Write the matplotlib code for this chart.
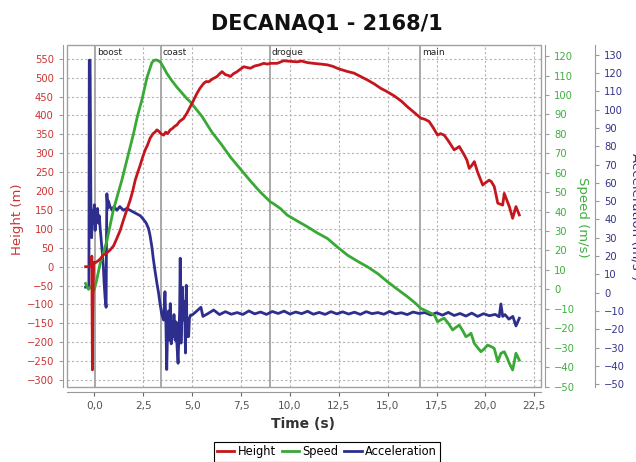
import matplotlib
matplotlib.use("Agg")
import matplotlib.pyplot as plt
from matplotlib.patches import Rectangle
from matplotlib.ticker import FuncFormatter, MultipleLocator

# ---------------- data ----------------
title = "DECANAQ1 - 2168/1"
events = ["boost", "coast", "drogue", "main"]
event_times = [0.02, 3.40, 8.97, 16.66]

t_height = [-0.45, -0.22, -0.15, -0.13, -0.10, -0.08, -0.04, 0.00, 0.04, 0.20, 0.29, 0.46, 0.62,
            0.80, 0.98, 1.15, 1.32, 1.49, 1.66, 1.83, 1.96, 2.09, 2.22, 2.34, 2.47, 2.60, 2.72, 2.85,
            3.00, 3.10, 3.20, 3.30, 3.40, 3.54, 3.65, 3.75, 3.88, 4.00, 4.12, 4.22, 4.35, 4.45, 4.56,
            4.73, 4.90, 5.07, 5.25, 5.40, 5.59, 5.72, 5.84, 6.05, 6.27, 6.40, 6.53, 6.70, 6.85, 6.96,
            7.10, 7.30, 7.45, 7.64, 7.80, 7.98, 8.20, 8.45, 8.66, 8.85, 9.00, 9.35, 9.69, 9.86, 10.10,
            10.37, 10.60, 10.89, 11.20, 11.57, 11.91, 12.20, 12.42, 12.59, 12.90, 13.28, 13.62, 13.96,
            14.30, 14.64, 14.90, 15.33, 15.70, 16.01, 16.40, 16.69, 16.90, 17.12, 17.30, 17.55, 17.70,
            17.89, 18.10, 18.40, 18.55, 18.66, 18.91, 19.05, 19.17, 19.30, 19.43, 19.60, 19.86, 20.00,
            20.19, 20.30, 20.45, 20.63, 20.88, 20.96, 21.10, 21.22, 21.39, 21.56, 21.73]
height = [0, 0, 2, 28, -273, -120, 8, 12, 10, 16, 20, 31, 36,
          44, 55, 75, 96, 124, 150, 176, 200, 229, 250, 268, 290, 309, 322, 340,
          352, 356, 362, 358, 352, 348, 356, 352, 362, 366, 372, 375, 384, 388, 392,
          406, 423, 440, 459, 472, 485, 490, 489, 497, 503, 510, 516, 508, 506, 503,
          510, 516, 522, 529, 527, 525, 531, 534, 538, 536, 538, 538, 545, 544, 543,
          542, 544, 540, 538, 536, 534, 530, 525, 522, 517, 512, 503, 494,
          484, 472, 465, 452, 438, 423, 406, 393, 390, 384, 370, 348, 352,
          348, 333, 309, 314, 318, 296, 282, 260, 268, 278, 250, 216, 222,
          229, 225, 212, 168, 163, 194, 175, 159, 128, 159, 137]

t_speed = [-0.45, -0.30, -0.15, -0.05, 0.00, 0.10, 0.29, 0.64, 0.97, 1.40, 1.70, 2.00, 2.20, 2.43,
           2.69, 2.94, 3.05, 3.16, 3.27, 3.37, 3.55, 3.71, 3.95, 4.22, 4.48, 4.74, 4.90, 5.50, 6.00,
           6.50, 6.96, 7.50, 8.00, 8.49, 9.00, 9.17, 9.52, 9.86, 10.40, 10.89, 11.40, 11.91, 12.40,
           12.94, 13.45, 13.96, 14.50, 14.99, 15.50, 16.01, 16.40, 16.69, 16.95, 17.21, 17.40, 17.55,
           17.75, 17.89, 18.10, 18.32, 18.50, 18.66, 18.85, 19.00, 19.15, 19.26, 19.43, 19.60, 19.77,
           19.95, 20.11, 20.30, 20.45, 20.63, 20.79, 20.96, 21.10, 21.22, 21.39, 21.56, 21.73]
speed = [3, 0, 1.5, -1, 0, 4, 13, 25, 40.8, 56, 68, 80, 89, 97.4,
         109, 116.6, 117.8, 118, 117.6, 117, 114, 111, 107.5, 104, 101, 98, 96.5, 89, 81,
         74.5, 68, 61.5, 55.5, 50, 45, 44, 41.5, 38.2, 35, 32.2, 29, 26.2, 22,
         17.6, 14.5, 11.6, 8, 3.9, 0, -3.8, -7, -9.8, -11, -12.3, -13.5, -16.7,
         -15.5, -14.9, -17.5, -20.9, -19.5, -18.4, -21.5, -24.4, -23.5, -22.6, -27.8, -30, -32.1,
         -30.5, -28.7, -29.5, -30.4, -37.2, -32.9, -32.1, -35, -38.1, -41.5, -32.9, -36.4]

t_accel = [-0.45, -0.28, -0.26, -0.22, -0.18, -0.14, -0.10, -0.05, 0.00, 0.04, 0.08, 0.12, 0.16,
           0.20, 0.25, 0.29, 0.34, 0.38, 0.42, 0.46, 0.50, 0.55, 0.60, 0.62, 0.64, 0.68, 0.72, 0.80,
           0.90, 1.00, 1.15, 1.30, 1.49, 1.65, 1.83, 2.00, 2.17, 2.35, 2.51, 2.65, 2.77, 2.85, 2.94,
           3.02, 3.10, 3.20, 3.28, 3.37, 3.45, 3.54, 3.61, 3.66, 3.70, 3.74, 3.79, 3.84, 3.88, 3.93,
           3.97, 4.02, 4.07, 4.13, 4.18, 4.23, 4.28, 4.33, 4.36, 4.39, 4.43, 4.47, 4.50, 4.56, 4.61,
           4.66, 4.70, 4.74, 4.78, 4.82, 4.86, 4.92, 5.00, 5.20, 5.45, 5.55, 5.80, 6.10, 6.40, 6.70,
           7.00, 7.30, 7.60, 7.90, 8.20, 8.50, 8.80, 9.10, 9.40, 9.70, 10.00, 10.30, 10.60, 10.90,
           11.20, 11.50, 11.80, 12.10, 12.40, 12.70, 13.00, 13.30, 13.60, 13.90, 14.20, 14.50, 14.80,
           15.10, 15.40, 15.70, 16.00, 16.30, 16.60, 16.90, 17.20, 17.50, 17.80, 18.10, 18.40, 18.70,
           19.00, 19.30, 19.60, 19.90, 20.20, 20.50, 20.70, 20.79, 20.88, 21.00, 21.20, 21.40, 21.56,
           21.73]
accel = [3, 3, 127, 127, 50, 30, 45, 38, 48, 34, 44, 40, 46,
         38, 42, 36, 30, 25, 20, 14, 5, -3, -8, 30, 54, 46, 50, 47,
         45, 47, 45, 47, 45, 46, 45, 44, 43, 42, 40, 38, 35, 31, 25,
         18, 12, 5, 0, -7, -12, -15, 0.5, -18, -42, -22, -10, -26, -6, -28,
         -16, -24, -12, -26, -16, -30, -38.6, -20, -10, 18.8, -27.6, -12, 3, -15, -5,
         -33, 4, -24, -16.7, -24, -14, -12.2, -12.2, -10.4, -8, -13, -11.5, -9.5, -12, -10.4,
         -11.8, -10.9, -11.9, -10.0, -11.6, -10.6, -11.9, -10.3, -11.4, -10.1, -11.7, -10.6, -11.5, -10.2,
         -11.8, -10.8, -11.9, -10.4, -11.6, -10.5, -11.7, -10.7, -11.9, -10.4, -11.5, -10.9, -11.8,
         -10.3, -11.6, -11.0, -12.0, -10.6, -11.4, -10.9, -12.2, -11.0, -12.3, -10.8, -12.5, -11.4,
         -12.8, -11.2, -13.0, -11.5, -12.6, -11.9, -13.2, -6.2, -13.0, -12.0, -14.5, -13.0, -18.2,
         -14.0]

x_ticks = [0.0, 2.5, 5.0, 7.5, 10.0, 12.5, 15.0, 17.5, 20.0, 22.5]

# ---------------- style ----------------
RED = "#c4161c"
GREEN = "#38a935"
BLUE = "#2e2e8e"
RED_T = "#cc3333"
GREEN_T = "#3fae3f"
BLUE_T = "#333388"
GREY = "#9a9a9a"

fig = plt.figure(figsize=(6.36, 4.62), dpi=100)
fig.patch.set_facecolor("white")
L, R, B, T = 67 / 636, 541 / 636, 1 - 386.7 / 462, 1 - 45 / 462
ax = fig.add_axes([L, B, R - L, T - B])

xlim = (-1.40, 22.84)
ax.set_xlim(xlim)
ax.set_ylim(-317.5, 586.5)

# grid + events on the base axes
ax.set_xticks(x_ticks)
ax.yaxis.set_major_locator(MultipleLocator(50))
ax.grid(True, color="#b4b4b4", linestyle=(0, (2, 2)), linewidth=0.8)
ax.set_axisbelow(True)
for name, te in zip(events, event_times):
    ax.axvline(te, color="#a8a8a8", linewidth=1.4, zorder=1)
    ax.annotate(name, xy=(te, 1), xycoords=("data", "axes fraction"),
                xytext=(1.5, -2), textcoords="offset points", ha="left", va="top",
                fontsize=6.5, color="#222222")

ax.add_patch(Rectangle((0, 0), 1, 1, transform=ax.transAxes, fill=False,
                       edgecolor="#a0a0a0", linewidth=1.0, zorder=5, clip_on=False))

for s in ["top", "right"]:
    ax.spines[s].set_visible(False)
ax.spines["left"].set_position(("outward", 3))
ax.spines["bottom"].set_position(("outward", 3.5))
ax.spines["left"].set_color(GREY)
ax.spines["bottom"].set_color(GREY)
ax.tick_params(axis="y", colors=GREY, labelcolor=RED_T, labelsize=7.2, length=3, width=0.8)
ax.tick_params(axis="x", colors="#666666", labelcolor="#555555", labelsize=7.6, length=3, width=0.8)
ax.xaxis.set_major_formatter(FuncFormatter(lambda v, p: f"{v:.1f}".replace(".", ",")))

# acceleration axis (bottom-most lines)
ax3 = ax.twinx()
ax3.patch.set_visible(False)
ax3.set_ylim(-51.4, 135.3)
ax3.yaxis.set_major_locator(MultipleLocator(10))
for s in ["top", "left", "bottom"]:
    ax3.spines[s].set_visible(False)
ax3.spines["right"].set_position(("outward", 39))
ax3.spines["right"].set_color(GREY)
ax3.tick_params(axis="y", colors=GREY, labelcolor=BLUE_T, labelsize=7.2, length=3, width=0.8)
l3, = ax3.plot(t_accel, accel, color=BLUE, linewidth=2.0, label="Acceleration")

# speed axis
ax2 = ax.twinx()
ax2.patch.set_visible(False)
ax2.set_ylim(-50.1, 125.7)
ax2.yaxis.set_major_locator(MultipleLocator(10))
for s in ["top", "left", "bottom"]:
    ax2.spines[s].set_visible(False)
ax2.spines["right"].set_position(("outward", 3))
ax2.spines["right"].set_color(GREY)
ax2.tick_params(axis="y", colors=GREY, labelcolor=GREEN_T, labelsize=7.2, length=3, width=0.8)
l2, = ax2.plot(t_speed, speed, color=GREEN, linewidth=2.0, label="Speed")

# height overlay (on top)
axh = ax.twinx()
axh.patch.set_visible(False)
axh.set_ylim(ax.get_ylim())
axh.axis("off")
l1, = axh.plot(t_height, height, color=RED, linewidth=2.0, label="Height")

for a in (ax, ax2, ax3, axh):
    a.set_xlim(xlim)

# labels
fig.text(326.7 / 636, 1 - 24 / 462, title, ha="center", va="center",
         fontsize=15, fontweight="bold", color="#111111")
fig.text(303 / 636, 1 - 424 / 462, "Time (s)", ha="center", va="center",
         fontsize=10, fontweight="bold", color="#333333")
fig.text(18 / 636, 1 - 219 / 462, "Height (m)", ha="center", va="center",
         rotation=90, fontsize=9.5, color=RED_T)
fig.text(583 / 636, 1 - 217 / 462, "Speed (m/s)", ha="center", va="center",
         rotation=270, fontsize=9.5, color=GREEN_T)
fig.text(636 / 636, 1 - 217 / 462, "Acceleration (m/s\u00b2)", ha="center", va="center",
         rotation=270, fontsize=9.5, color=BLUE_T)

leg = fig.legend(handles=[l1, l2, l3], loc="upper center",
                 bbox_to_anchor=(327 / 636, 1 - 442 / 462), ncol=3, fontsize=8.3,
                 frameon=True, fancybox=False, edgecolor="black", framealpha=1,
                 handlelength=1.5, handletextpad=0.3, columnspacing=0.5,
                 borderpad=0.3, borderaxespad=0)
leg.get_frame().set_linewidth(0.8)

fig.savefig("out.png", dpi=100)
